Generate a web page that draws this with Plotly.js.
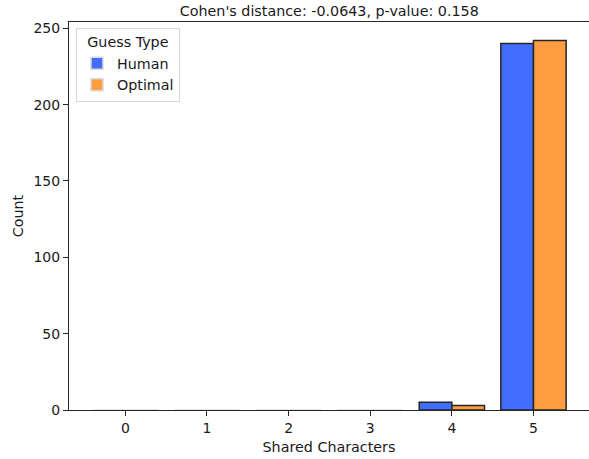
<!DOCTYPE html>
<html>
<head>
<meta charset="utf-8">
<script src="https://cdn.plot.ly/plotly-3.0.1.min.js"></script>
<style>html,body{margin:0;padding:0;background:#fff;overflow:hidden}#chart{width:589px;height:459px}</style>
</head>
<body>
<div id="chart"></div>
<script>
const categories = [0, 1, 2, 3, 4, 5];
const humanCounts = [0, 0, 0, 0, 5, 240];
const optimalCounts = [0, 0, 0, 0, 3, 242];
const tickLabels = ['0', '1', '2', '3', '4', '5'];
const yTicks = [0, 50, 100, 150, 200, 250];
const titleText = "Cohen's distance: -0.0643, p-value: 0.158";

const FONT = 'DejaVu Sans, Liberation Sans, sans-serif';
const FS = 14.3;
const TXT = '#1a1a1a';
const edgeFor = vals => vals.map(v => v === 0 ? '#d9d9d9' : '#262626');

const traces = [
  {
    type: 'bar', name: 'Human', x: categories, y: humanCounts,
    marker: {color: '#416eff', line: {color: edgeFor(humanCounts), width: 1.5}}
  },
  {
    type: 'bar', name: 'Optimal', x: categories, y: optimalCounts,
    marker: {color: '#ff9d40', line: {color: edgeFor(optimalCounts), width: 1.5}}
  }
];

const layout = {
  width: 589, height: 459,
  margin: {l: 69, r: 0, t: 22, b: 49, pad: 0},
  paper_bgcolor: '#ffffff', plot_bgcolor: '#ffffff',
  font: {family: FONT, size: FS, color: TXT},
  barmode: 'group', bargap: 0.2, bargroupgap: 0,
  title: {text: titleText, x: 0.559, xanchor: 'center', y: 0.988, yanchor: 'top',
          font: {family: FONT, size: FS, color: TXT}},
  xaxis: {
    range: [-0.69, 5.68], tickmode: 'array', tickvals: categories, ticktext: tickLabels,
    showgrid: false, zeroline: false, showline: true, linecolor: '#262626', linewidth: 1,
    mirror: true, ticks: 'outside', ticklen: 5, tickwidth: 1, tickcolor: '#262626',
    tickfont: {family: FONT, size: 14, color: TXT},
    title: {text: 'Shared Characters', standoff: 7, font: {family: FONT, size: FS, color: TXT}}
  },
  yaxis: {
    range: [0, 254.1], tickmode: 'array', tickvals: yTicks,
    showgrid: false, zeroline: false, showline: true, linecolor: '#262626', linewidth: 1,
    mirror: false, ticks: 'outside', ticklen: 5, tickwidth: 1, tickcolor: '#262626',
    tickfont: {family: FONT, size: 14, color: TXT},
    title: {text: 'Count', standoff: 6, font: {family: FONT, size: FS, color: TXT}}
  },
  showlegend: true,
  legend: {
    x: 0.0134, y: 0.985, xanchor: 'left', yanchor: 'top',
    bgcolor: '#ffffff', bordercolor: '#d6d6d6', borderwidth: 1,
    title: {text: 'Guess Type', side: 'top center', font: {family: FONT, size: FS, color: TXT}},
    font: {family: FONT, size: FS, color: TXT},
    itemwidth: 30, tracegroupgap: 0
  }
};

Plotly.newPlot('chart', traces, layout, {displayModeBar: false, staticPlot: true});
</script>
</body>
</html>
